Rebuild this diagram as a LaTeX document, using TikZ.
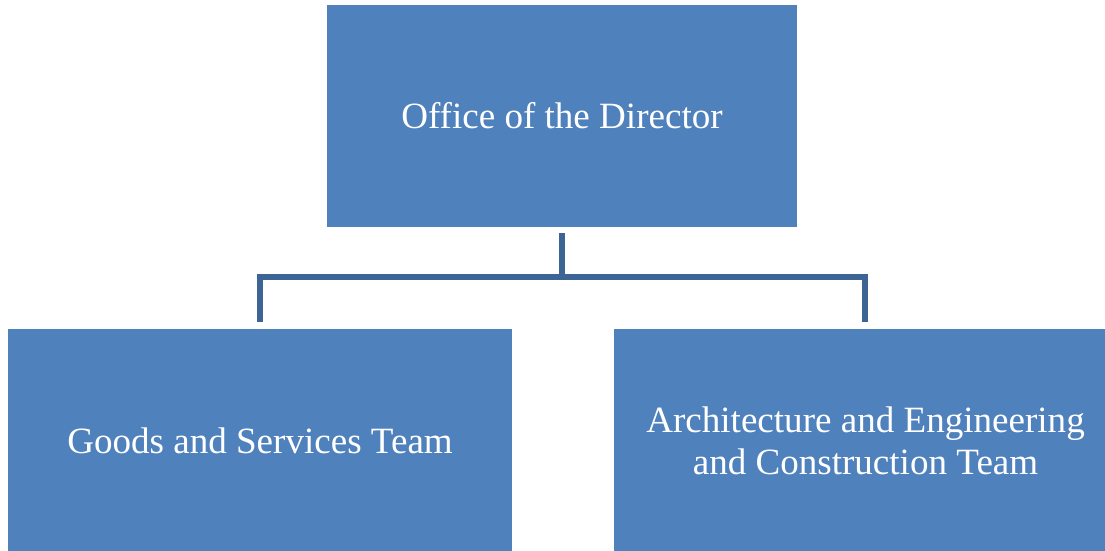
\documentclass[tikz,border=0pt]{standalone}
\usepackage{fontspec}
\setmainfont{Liberation Serif}
\usetikzlibrary{calc}
\definecolor{boxblue}{HTML}{4F81BD}
\definecolor{linkblue}{HTML}{3C6494}
\begin{document}
\begin{tikzpicture}[x=0.75pt,y=-0.75pt,
  orgbox/.style={fill=boxblue,draw=none,text=white,align=center,inner sep=0pt,
    font=\fontsize{27.8}{31.5}\selectfont},
  link/.style={draw=linkblue,line width=4.5pt}]
\useasboundingbox (0,0) rectangle (1105,550);
\node[orgbox,minimum width=352.5pt,minimum height=166.5pt] (top) at (562,116) {Office of the Director};
\node[orgbox,minimum width=378pt,minimum height=167.25pt] (left) at (260,440.5) {Goods and Services Team};
\node[orgbox,minimum width=369.75pt,minimum height=167.25pt] (right) at (860.5,440.5) {\hspace*{7.5pt}Architecture and Engineering\\\hspace*{7.5pt}and Construction Team};
\coordinate (topb) at ($(top.south)+(0,6)$);
\coordinate (mid) at (562,277);
\coordinate (leftt) at ($(left.north)+(0,-7)$);
\coordinate (rightt) at ($(right.north)+(4.5,-7)$);
\draw[link] (topb) -- (mid);
\draw[link] (leftt) |- (mid) -| (rightt);
\end{tikzpicture}
\end{document}
